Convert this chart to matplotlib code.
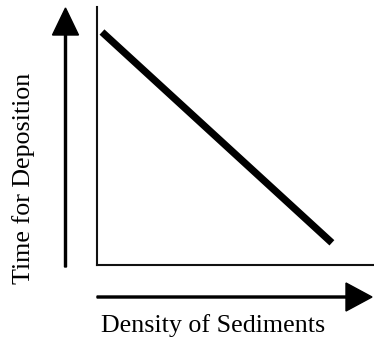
import matplotlib
matplotlib.use("Agg")
import matplotlib.pyplot as plt
from matplotlib.patches import FancyArrow

# Conceptual relationship: denser sediments take less time to deposit
density = [0.18, 8.48]
deposition_time = [9.03, 0.86]

x_label = "Density of Sediments"
y_label = "Time for Deposition"

W, H = 374, 339
fig = plt.figure(figsize=(W / 100, H / 100), dpi=100)

# Main plot area (pixel extents converted to figure fractions)
left, right, top, bottom = 97, 374, 7, 265
ax = fig.add_axes([left / W, (H - bottom) / H, (right - left) / W, (bottom - top) / H])
ax.set_xlim(0, 10)
ax.set_ylim(0, 10)
ax.plot(density, deposition_time, color="black", lw=5.2, solid_capstyle="butt")
for side in ("top", "right"):
    ax.spines[side].set_visible(False)
for side in ("left", "bottom"):
    ax.spines[side].set_linewidth(1.5)
    ax.spines[side].set_color("#111111")
ax.set_xticks([])
ax.set_yticks([])
ax.patch.set_alpha(0)

# Overlay in pixel coordinates for the direction arrows and labels
ov = fig.add_axes([0, 0, 1, 1], zorder=-1)
ov.set_xlim(0, W)
ov.set_ylim(H, 0)
ov.axis("off")

ov.add_patch(FancyArrow(65.5, 267, 0, 8 - 267, width=2, head_width=26, head_length=27,
                        length_includes_head=True, color="black"))
ov.add_patch(FancyArrow(97, 297, 372 - 97, 0, width=2, head_width=28, head_length=26,
                        length_includes_head=True, color="black"))

ov.text(213, 332, x_label, ha="center", va="baseline", fontsize=18.7,
        family="Liberation Serif")
ov.text(24, 178, y_label, ha="center", va="center", rotation=90, fontsize=18.7,
        family="Liberation Serif")

fig.savefig("out.png", dpi=100)
